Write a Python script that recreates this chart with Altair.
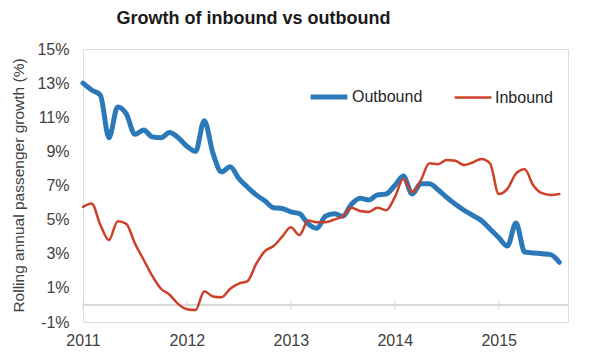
import altair as alt
import pandas as pd

# Monthly data, Jan 2011 .. Aug 2015
months = [f"{2011 + i // 12}-{i % 12 + 1:02d}" for i in range(56)]
outbound = [13.0, 12.6, 12.3, 9.8, 11.6, 11.2, 10.0, 10.25, 9.85, 9.8, 10.1, 9.8,
            9.3, 9.0, 10.8, 8.9, 7.8, 8.1, 7.4, 6.9, 6.45, 6.1, 5.7, 5.65,
            5.45, 5.35, 4.75, 4.5, 5.2, 5.35, 5.2, 5.9, 6.25, 6.15, 6.45, 6.5,
            7.0, 7.55, 6.5, 7.1, 7.1, 6.75, 6.3, 5.9, 5.55, 5.25, 4.95, 4.45,
            3.95, 3.45, 4.8, 3.1, 3.05, 3.0, 2.95, 2.5]
inbound = [5.75, 5.95, 4.7, 3.8, 4.9, 4.75, 3.6, 2.65, 1.7, 0.95, 0.6, 0.05,
           -0.25, -0.3, 0.8, 0.5, 0.45, 0.95, 1.25, 1.4, 2.4, 3.15, 3.45, 4.0,
           4.55, 4.1, 4.95, 4.85, 4.85, 5.0, 5.2, 5.7, 5.5, 5.45, 5.7, 5.55,
           6.3, 7.4, 6.6, 7.3, 8.3, 8.25, 8.5, 8.45, 8.2, 8.35, 8.55, 8.3,
           6.5, 6.8, 7.7, 7.95, 7.0, 6.55, 6.45, 6.5]
series_names = ["Outbound", "Inbound"]
series_colors = ["#2b79b9", "#cc4128"]
series_widths = [5, 2.5]
year_ticks = [2011, 2012, 2013, 2014, 2015]
y_ticks = [-1, 1, 3, 5, 7, 9, 11, 13, 15]

t = [int(m[:4]) + (int(m[5:]) - 1) / 12 for m in months]
df = pd.DataFrame({
    "t": t + t,
    "value": outbound + inbound,
    "series": ["Outbound"] * len(outbound) + ["Inbound"] * len(inbound),
})
ticks_df = pd.DataFrame({"year": year_ticks})

FONT = "Liberation Sans"
xscale = alt.Scale(domain=[2011, 2015.667], nice=False, zero=False)
yscale = alt.Scale(domain=[-1, 15], nice=False, zero=False)

legend_kw = dict(title=None, orient="none", legendX=225, legendY=27,
                 direction="horizontal", symbolType="stroke", symbolSize=1350,
                 labelFontSize=16, labelFont=FONT, labelColor="#262626",
                 labelOffset=2, columnPadding=26)

xaxis = alt.Axis(values=year_ticks, format="d", grid=False, domain=False, ticks=False,
                 labelFontSize=16, labelColor="#404040", labelFont=FONT, labelPadding=10,
                 labelFlush=False, labelOverlap=False)
yaxis = alt.Axis(values=y_ticks, labelExpr="datum.value + '%'", grid=False, domain=False,
                 ticks=False, labelFontSize=16, labelColor="#404040", labelFont=FONT,
                 labelPadding=14, labelOverlap=False, labelFlush=False,
                 titleFont=FONT, titleFontSize=15.5, titleFontWeight="normal",
                 titleColor="#404040", titleX=-65, titleY=136, titleAngle=270,
                 titleAlign="center", titleBaseline="middle")

lines = alt.Chart(df).mark_line(interpolate="monotone", strokeCap="round", strokeJoin="round").encode(
    x=alt.X("t:Q", scale=xscale, title=None, axis=xaxis),
    y=alt.Y("value:Q", scale=yscale, title="Rolling annual passenger growth (%)", axis=yaxis),
    color=alt.Color("series:N", scale=alt.Scale(domain=series_names, range=series_colors),
                    legend=alt.Legend(**legend_kw)),
    strokeWidth=alt.StrokeWidth("series:N", scale=alt.Scale(domain=series_names, range=series_widths),
                                legend=alt.Legend(**legend_kw)),
)

base_line = alt.Chart(ticks_df).mark_rule(color="#d9d9d9", strokeWidth=1.5).encode(
    y=alt.Y(datum=0, scale=yscale, title="Rolling annual passenger growth (%)", axis=yaxis)
)
tick_marks = alt.Chart(ticks_df).mark_tick(color="#d4d4d4", orient="vertical", size=8, thickness=1.2).encode(
    x=alt.X("year:Q", scale=xscale, title=None, axis=xaxis),
    y=alt.Y(datum=0, scale=yscale, title="Rolling annual passenger growth (%)", axis=yaxis),
)

chart = alt.layer(base_line, tick_marks, lines).properties(
    width=485, height=273,
    autosize=alt.AutoSizeParams(type="none"),
    padding={"left": 75, "top": 41, "right": 24, "bottom": 34},
    title=alt.Title("Growth of inbound vs outbound", font=FONT, fontSize=18, fontWeight="bold",
                    color="#1a1a1a", anchor="middle", dx=-72, offset=20, dy=21, baseline="alphabetic"),
).configure_view(strokeWidth=0).configure_axis(labelOverlap=False).configure(background="white")

chart.save("out.html", embed_options={"renderer": "svg", "actions": False})
